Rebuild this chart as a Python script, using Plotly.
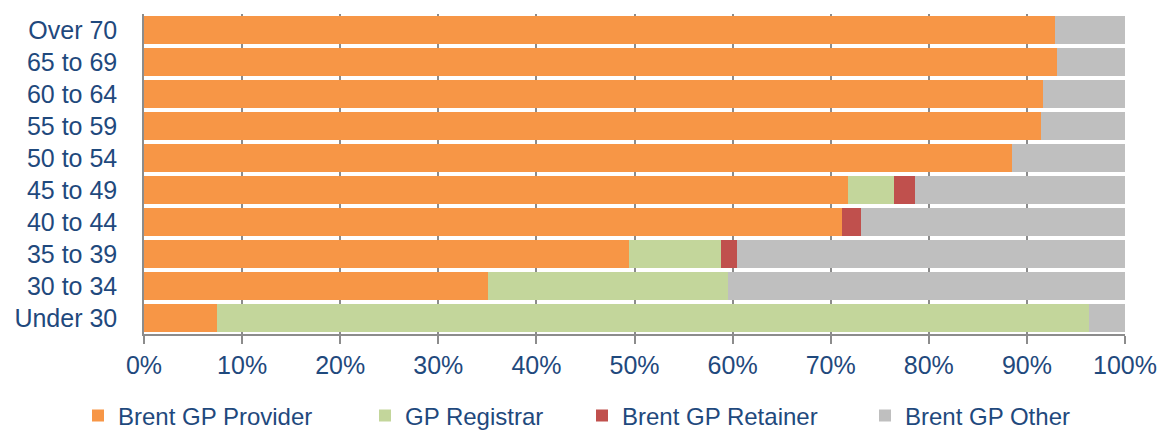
import plotly.graph_objects as go

categories = ["Over 70", "65 to 69", "60 to 64", "55 to 59", "50 to 54",
              "45 to 49", "40 to 44", "35 to 39", "30 to 34", "Under 30"]
provider = [92.9, 93.1, 91.6, 91.4, 88.5, 71.8, 71.2, 49.4, 35.1, 7.4]
registrar = [0, 0, 0, 0, 0, 4.7, 0, 9.4, 24.4, 88.9]
retainer = [0, 0, 0, 0, 0, 2.1, 1.9, 1.6, 0, 0]
other = [7.1, 6.9, 8.4, 8.6, 11.5, 21.4, 26.9, 39.6, 40.5, 3.7]

series_names = ["Brent GP Provider", "GP Registrar", "Brent GP Retainer", "Brent GP Other"]
series_values = [provider, registrar, retainer, other]
series_colors = ["#F79646", "#C3D69B", "#C0504D", "#BFBFBF"]

text_color = "#1F497D"
font_family = "Liberation Sans, Arial, sans-serif"
W, H = 1158, 424
FS = 25
LFS = 24

# page pixel where each legend entry's text should start
legend_text_x = [118, 405, 622, 905]
legend_ids = ["legend", "legend2", "legend3", "legend4"]

fig = go.Figure()
for name, vals, color, lid in zip(series_names, series_values, series_colors, legend_ids):
    fig.add_trace(go.Bar(
        y=categories, x=vals, name=name, orientation="h",
        marker=dict(color=color, line=dict(width=0)),
        legend=lid,
    ))

legend_layouts = {}
for lid, tx in zip(legend_ids, legend_text_x):
    legend_layouts[lid] = dict(
        orientation="h", xref="container", yref="container",
        x=(tx - 8 - 40) / W, xanchor="left",
        y=1 - (416 - 8) / H, yanchor="middle",
        font=dict(size=LFS, color=text_color, family=font_family),
        itemwidth=30, bgcolor="rgba(0,0,0,0)",
    )

fig.update_layout(
    barmode="stack",
    bargap=0.13,
    width=W, height=H,
    margin=dict(l=136, r=W - 136 - 981, t=6, b=H - 6 - 320),
    plot_bgcolor="white", paper_bgcolor="white",
    font=dict(family=font_family, color=text_color, size=FS),
    showlegend=True,
    xaxis=dict(
        range=[0, 100], dtick=10, ticksuffix="%",
        showgrid=True, gridcolor="#8C8C8C", gridwidth=1.5,
        showline=True, linecolor="#8C8C8C", linewidth=1.5,
        ticks="outside", ticklen=8, tickcolor="#8C8C8C", tickwidth=1.5,
        tickfont=dict(size=FS, color=text_color),
        zeroline=False, fixedrange=True, automargin=False,
    ),
    yaxis=dict(
        autorange="reversed",
        showline=True, linecolor="#8C8C8C", linewidth=1.5,
        ticks="", tickfont=dict(size=FS, color=text_color),
        showgrid=False, fixedrange=True, ticklabelstandoff=20,
        automargin=False,
    ),
    **legend_layouts,
)

fig.write_html("out.html")
